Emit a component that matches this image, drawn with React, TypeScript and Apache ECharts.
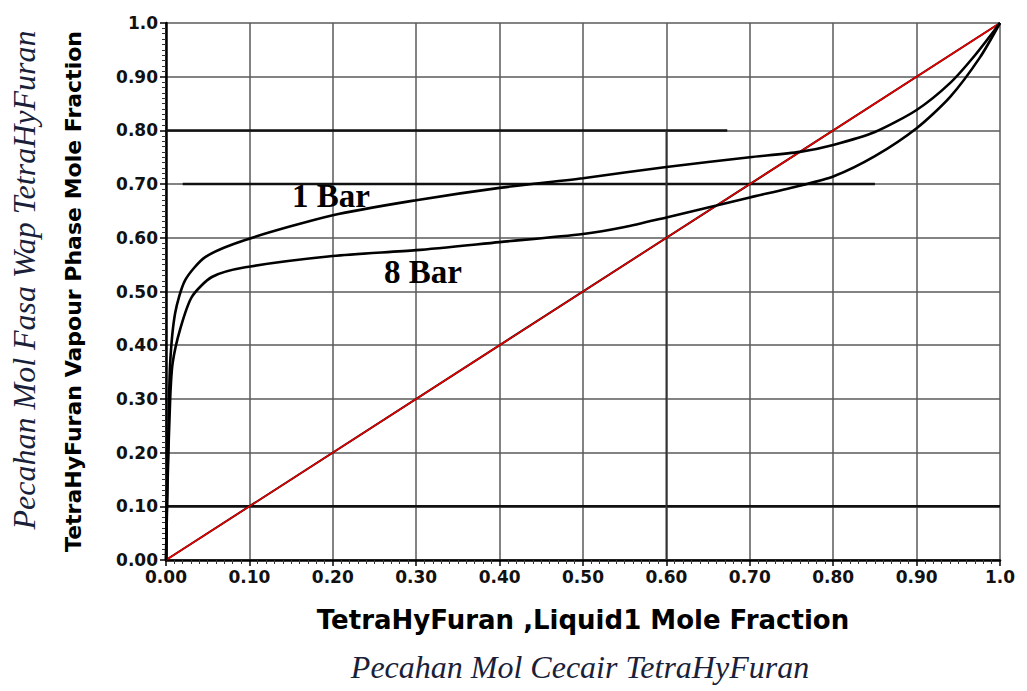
import React, { useEffect, useRef } from "react";
import * as echarts from "echarts";

const tickLabels = ["0.00", "0.10", "0.20", "0.30", "0.40", "0.50", "0.60", "0.70", "0.80", "0.90", "1.0"];

const bar1X = [0, 0.001, 0.003, 0.005, 0.011, 0.023, 0.047, 0.095, 0.2, 0.3, 0.4, 0.5, 0.6, 0.7, 0.76, 0.8, 0.85, 0.9, 0.94, 0.97, 1.0];
const bar1Y = [0, 0.1, 0.242, 0.367, 0.46, 0.521, 0.564, 0.596, 0.642, 0.67, 0.693, 0.711, 0.732, 0.75, 0.76, 0.773, 0.797, 0.838, 0.888, 0.94, 1.0];

const bar8X = [0, 0.002, 0.005, 0.008, 0.017, 0.031, 0.055, 0.095, 0.2, 0.3, 0.4, 0.5, 0.55, 0.6, 0.66, 0.7, 0.76, 0.8, 0.85, 0.9, 0.94, 0.976, 1.0];
const bar8Y = [0, 0.15, 0.3, 0.367, 0.43, 0.49, 0.527, 0.545, 0.566, 0.577, 0.592, 0.607, 0.62, 0.638, 0.66, 0.675, 0.697, 0.714, 0.752, 0.804, 0.862, 0.936, 1.0];

const diagonal = [[0, 0], [1, 1]];
// reference lines drawn on the chart: [x1, y1, x2, y2]
const refLines = [
  [0, 0.8, 0.673, 0.8],
  [0.02, 0.7, 0.85, 0.7],
  [0, 0.1, 1, 0.1],
];
const darkGrid = [[0.6, 0, 0.6, 0.8]];

const curveLabels = [
  { text: "1 Bar", x: 292, y: 196 },
  { text: "8 Bar", x: 384, y: 272 },
];

const zip = (xs: number[], ys: number[]) => xs.map((x, i) => [x, ys[i]]);

export default function App() {
  const ref = useRef<HTMLDivElement>(null);
  useEffect(() => {
    if (!ref.current) return;
    const chart = echarts.init(ref.current, undefined, { renderer: "svg" });
    const labelFmt = (v: number) => tickLabels[Math.round(v * 10)] ?? "";
    const axisCommon = {
      type: "value",
      min: 0,
      max: 1,
      interval: 0.1,
      axisLine: { show: true, onZero: false, lineStyle: { color: "#000", width: 2.5 } },
      axisTick: { show: true, length: 6, lineStyle: { color: "#000", width: 1.5 } },
      minorTick: { show: true, splitNumber: 10, length: 4, lineStyle: { color: "#333", width: 1 } },
      splitLine: { show: true, lineStyle: { color: "#5a5a5a", width: 1.5 } },
      axisLabel: {
        formatter: labelFmt,
        fontFamily: "DejaVu Sans",
        fontWeight: "bold",
        fontSize: 17,
        color: "#111",
        margin: 8,
      },
      nameLocation: "middle",
      nameTextStyle: { fontFamily: "DejaVu Sans", fontWeight: "bold", color: "#000" },
    };
    const series: any[] = [];
    refLines.forEach((l) => {
      series.push({
        type: "line",
        data: [[l[0], l[1]], [l[2], l[3]]],
        symbol: "none",
        lineStyle: { color: "#111", width: 2.5 },
        silent: true,
      });
    });
    darkGrid.forEach((l) => {
      series.push({
        type: "line",
        data: [[l[0], l[1]], [l[2], l[3]]],
        symbol: "none",
        lineStyle: { color: "#333", width: 1.8 },
        silent: true,
      });
    });
    series.push({
      type: "line",
      data: diagonal,
      symbol: "none",
      lineStyle: { color: "#000", width: 2 },
    });
    series.push({
      type: "line",
      data: diagonal,
      symbol: "none",
      lineStyle: { color: "#e60000", width: 1.5 },
    });
    series.push({
      type: "line",
      name: "1 Bar",
      data: zip(bar1X, bar1Y),
      symbol: "none",
      smooth: 0.25,
      lineStyle: { color: "#000", width: 2.6 },
    });
    series.push({
      type: "line",
      name: "8 Bar",
      data: zip(bar8X, bar8Y),
      symbol: "none",
      smooth: 0.25,
      lineStyle: { color: "#000", width: 2.6 },
    });
    chart.setOption({
      animation: false,
      backgroundColor: "#fff",
      grid: { left: 166, right: 27, top: 23, bottom: 131, containLabel: false },
      xAxis: {
        ...axisCommon,
        name: "TetraHyFuran ,Liquid1 Mole Fraction",
        nameGap: 47,
        nameTextStyle: { ...axisCommon.nameTextStyle, fontSize: 26 },
      },
      yAxis: {
        ...axisCommon,
        name: "TetraHyFuran Vapour Phase Mole Fraction",
        nameGap: 82,
        nameTextStyle: { ...axisCommon.nameTextStyle, fontSize: 22 },
      },
      graphic: [
        ...curveLabels.map((c) => ({
          type: "text",
          x: c.x,
          y: c.y,
          style: {
            text: c.text,
            font: "bold 33px 'Liberation Serif'",
            fill: "#000",
            textAlign: "left",
            textVerticalAlign: "middle",
          },
          z: 100,
        })),
        {
          type: "text",
          x: 24,
          y: 280,
          rotation: Math.PI / 2,
          style: {
            text: "Pecahan Mol Fasa Wap TetraHyFuran",
            font: "italic 32px 'Liberation Serif'",
            fill: "#1a1f3a",
            textAlign: "center",
            textVerticalAlign: "middle",
          },
        },
        {
          type: "text",
          x: 580,
          y: 667,
          style: {
            text: "Pecahan Mol Cecair TetraHyFuran",
            font: "italic 32px 'Liberation Serif'",
            fill: "#1a1f3a",
            textAlign: "center",
            textVerticalAlign: "middle",
          },
        },
      ],
      series,
    });
    return () => chart.dispose();
  }, []);
  return (
    <div
      ref={ref}
      style={{ position: "fixed", left: 0, top: 0, width: 1027, height: 691 }}
    />
  );
}
